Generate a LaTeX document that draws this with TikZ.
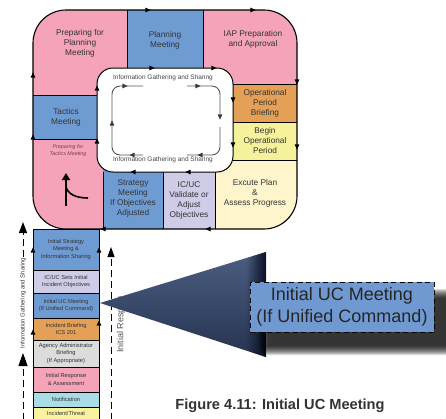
\documentclass[tikz,border=0pt]{standalone}
\usepackage{fontspec}
\setmainfont{Liberation Sans}
\usetikzlibrary{arrows.meta,fadings}
\definecolor{cpink}{HTML}{F4A3B9}
\definecolor{cblue}{HTML}{6F9BD3}
\definecolor{corange}{HTML}{E4A057}
\definecolor{cyellow}{HTML}{F6F29B}
\definecolor{clyellow}{HTML}{FEF5CC}
\definecolor{clav}{HTML}{CFCCE8}
\definecolor{cgray}{HTML}{DCDCDC}
\definecolor{ccyan}{HTML}{A8DCE6}
\definecolor{cthreat}{HTML}{F9F3A0}
\definecolor{ctext}{HTML}{333333}
\definecolor{cloop}{HTML}{555555}
\definecolor{cinfo}{HTML}{444444}
\definecolor{cital}{HTML}{7A3B4B}
\definecolor{cboxblue}{HTML}{7099D2}
\definecolor{ctrtop}{HTML}{4B5E82}
\definecolor{ctrmid}{HTML}{A8BEE2}
\definecolor{ctrbot}{HTML}{26334F}
\definecolor{ctredge}{HTML}{050C1E}
\tikzfading[name=fadeR, left color=transparent!100, right color=transparent!0]
\newcommand\mtri[4][1]{\fill[shift={(#2,#3)},rotate=#4,scale=#1] (2.6,0) -- (-2.6,2.4) -- (-2.6,-2.4) -- cycle;}
\begin{document}
\begin{tikzpicture}[x=1pt,y=-1pt,
  lbl/.style={font=\fontsize{8.3}{10}\selectfont, text=ctext, align=center, inner sep=0pt},
  stk/.style={draw=black, line width=0.8pt, minimum width=66pt, align=center, inner sep=0pt, font=\fontsize{5.7}{7.5}\selectfont, text=ctext},
  infotext/.style={font=\fontsize{6.5}{8}\selectfont, text=cinfo, inner sep=0pt},
  divider/.style={line width=0.9pt},
  dashedarrow/.style={line width=1pt, dash pattern=on 7pt off 4pt, -{Triangle[length=11pt,width=8pt]}},
  innerloop/.style={cloop, line width=0.9pt, rounded corners=8pt}]
\clip (0,0) rectangle (446,418);
\fill[white] (0,0) rectangle (446,418);

% ring fills
\begin{scope}
\clip (33,120) [rounded corners=33pt] -- (33,10) -- (297,10) -- (297,229) -- (33,229) -- cycle;
\fill[cpink] (33,10) rectangle (127,95);
\fill[cblue] (127,10) rectangle (203,70);
\fill[cpink] (203,10) rectangle (297,84);
\fill[corange] (203,84) rectangle (297,122);
\fill[cyellow] (203,122) rectangle (297,160);
\fill[clyellow] (215,160) rectangle (297,229);
\fill[clav] (163,160) rectangle (215,229);
\fill[cblue] (103,160) rectangle (163,229);
\fill[cblue] (33,95) rectangle (110,139);
\fill[cpink] (33,139) rectangle (103,229);
\draw[divider] (127,10)--(127,68) (203,10)--(203,68) (233,84)--(297,84) (233,122)--(297,122)
  (233,160)--(297,160) (215,172)--(215,229) (163,172)--(163,229) (103,172)--(103,229)
  (33,95)--(97,95) (33,139)--(97,139);
\end{scope}
\draw[line width=1.1pt] (33,120) [rounded corners=33pt] -- (33,10) -- (297,10) -- (297,229) -- (33,229) -- cycle;

% inner white box
\draw[line width=1pt, fill=white, rounded corners=16pt] (97,68) rectangle (233,172);

% inner gray loop
\draw[innerloop] (143,86) -- (112,86) -- (112,155) -- (143,155);
\draw[innerloop] (187,86) -- (220,86) -- (220,114);
\draw[innerloop] (220,127) -- (220,155) -- (187,155);
\begin{scope}[cloop!70!black]
\mtri{125}{86}{0}
\mtri{198}{86}{0}
\mtri{220}{117}{-90}
\mtri{200}{155}{180}
\mtri{132}{155}{180}
\mtri{112}{123}{90}
\end{scope}
\node[infotext] (igt) at (163,78) {Information Gathering and Sharing};
\node[infotext] (igb) at (163,159.5) {Information Gathering and Sharing};

% border arrow marks
\mtri{148}{10}{0}
\mtri{253}{10}{0}
\mtri{297}{82}{-90}
\mtri{297}{147}{-90}
\mtri{208}{229}{180}
\mtri{103}{229}{180}
\mtri{33}{75}{90}
\mtri{33}{137}{90}
\mtri{152}{68}{0}
\mtri{214}{68}{0}
\mtri{233}{100}{-90}
\mtri{233}{145}{-90}
\mtri{188}{172}{180}
\mtri{133}{172}{180}
\mtri{97}{88}{90}
\mtri{97}{141}{90}

% ring labels
\node[lbl] (pfp) at (80,43) {Preparing for\\Planning\\Meeting};
\node[lbl] (pm) at (165,40) {Planning\\Meeting};
\node[lbl] (iap) at (253,39.5) {IAP Preparation\\and Approval};
\node[lbl] (opb) at (265,103) {Operational\\Period\\Briefing};
\node[lbl] (bop) at (265,141) {Begin\\Operational\\Period};
\node[lbl] (exe) at (255,193) {Excute Plan\\\&\\Assess Progress};
\node[lbl] (icuc) at (189,200) {IC/UC\\Validate or\\Adjust\\Objectives};
\node[lbl] (strat) at (133,198) {Strategy\\Meeting\\If Objectives\\Adjusted};
\node[lbl] (tac) at (66,117) {Tactics\\Meeting};
\node[inner sep=0pt, align=center, text=cital, font=\fontsize{5.3}{7}\selectfont\itshape] (ptm) at (68,150.5) {Preparing for\\Tactics Meeting};

% curved arrow in pink
\coordinate (ca0) at (66,206);
\coordinate (ca1) at (66,173);
\coordinate (cb0) at (66,186);
\coordinate (cb1) at (88,198);
\draw[line width=1.8pt, -{Triangle[length=7pt,width=8pt]}] (ca0) -- (ca1);
\draw[line width=1.6pt] (cb0) .. controls (67,194) and (76,198) .. (cb1);

% stack
\node[stk, fill=cblue, minimum height=41pt] (s1) at (66,249.5) {Initial Strategy\\Meeting \&\\Information Sharing};
\node[stk, fill=clav, minimum height=23pt] (s2) at (66,281.5) {IC/UC Sets Initial\\Incident Objectives};
\node[stk, fill=cblue, minimum height=25pt] (s3) at (66,305.5) {Initial UC Meeting\\(If Unified Command)};
\node[stk, fill=corange, minimum height=22pt] (s4) at (66,329) {Incident Briefing\\ICS 201};
\node[stk, fill=cgray, minimum height=27pt] (s5) at (66,353.5) {Agency Administrator\\Briefing\\(If Appropriate)};
\node[stk, fill=cpink, minimum height=25pt] (s6) at (66,379.5) {Initial Response\\\& Assessment};
\node[stk, fill=ccyan, minimum height=15pt] (s7) at (66,399.5) {Notification};
\node[stk, fill=cthreat, minimum height=13pt] (s8) at (66,413.5) {Incident/Threat};
\mtri{33}{250}{90}
\mtri{99}{250}{90}
\mtri{33}{332}{90}
\mtri{99}{323}{90}

% left dashed arrow with text
\coordinate (lb) at (23,420);
\coordinate (lm) at (23,353);
\coordinate (lu) at (23,257);
\coordinate (lt) at (23,222);
\draw[dashedarrow, -{Triangle[length=13pt,width=9pt]}] (lb) -- (lm);
\node[rotate=90, inner sep=0pt, font=\fontsize{5.9}{7}\selectfont, text=ctext] (lgs) at (23,303) {Information Gathering and Sharing};
\draw[dashedarrow] (lu) -- (lt);

% right dashed arrow with text
\coordinate (rb) at (111,420);
\coordinate (rt) at (111,247);
\draw[dashedarrow, -{Triangle[length=10pt,width=7pt]}] (rb) -- (rt);
\begin{scope}
\clip (100,296) rectangle (140,420);
\node[rotate=90, anchor=west, inner sep=0pt, font=\fontsize{9}{10}\selectfont, text=cloop] (ir) at (121,353) {Initial Response};
\end{scope}

% callout triangle
\coordinate (tt) at (100,303);
\coordinate (t1) at (266,252);
\coordinate (t2) at (266,357);
\shade[top color=ctrtop, middle color=ctrmid, bottom color=ctrbot] (tt) -- (t1) -- (t2) -- cycle;
\begin{scope}
\clip (tt) -- (t1) -- (t2) -- cycle;
\fill[ctredge, path fading=fadeR] (246,248) rectangle (267,362);
\end{scope}

% shadow
\foreach \i in {0,...,9}{
  \pgfmathsetmacro\e{9-\i}
  \fill[black, opacity=0.14, rounded corners=\e pt] (268-\e,298-\e) rectangle (450+\e,346+\e);
}
% callout box
\node[draw=black, line width=1pt, dash pattern=on 5pt off 3.5pt, fill=cboxblue, minimum width=184pt, minimum height=50pt, align=center, inner sep=0pt, font=\fontsize{18}{22}\selectfont, text=black!85] (ucbox) at (342,307) {Initial UC Meeting\\(If Unified Command)};

% caption
\node[inner sep=0pt, font=\fontsize{14.6}{16}\selectfont\bfseries, text=ctext] (cap) at (280,406) {Figure 4.11: Initial UC Meeting};
\end{tikzpicture}
\end{document}
